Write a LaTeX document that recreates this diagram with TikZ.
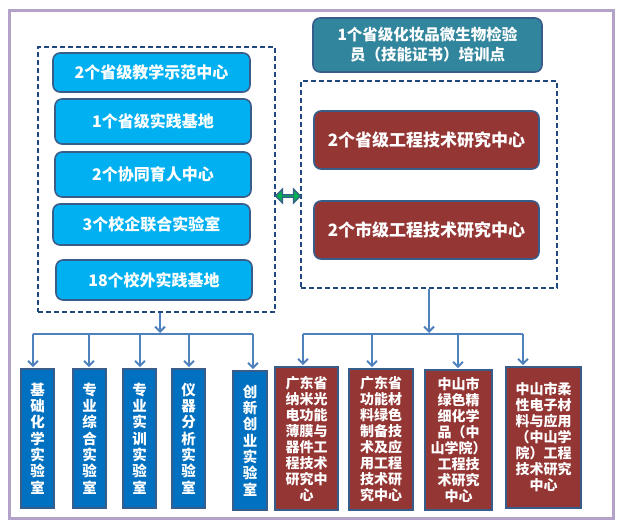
\documentclass[tikz,border=0pt]{standalone}
\usepackage{fontspec}
\newfontfamily\cjk{Noto Sans CJK SC}
\usepackage{tikz}
\usetikzlibrary{positioning,shapes,shapes.arrows,arrows.meta}

\definecolor{skyfill}{HTML}{00B0F0}
\definecolor{edgeblue}{HTML}{385D8A}
\definecolor{tealfill}{HTML}{31859C}
\definecolor{brickfill}{HTML}{943634}
\definecolor{labfill}{HTML}{0070C0}
\definecolor{wireblue}{HTML}{4F81BD}
\definecolor{dashblue}{HTML}{1F497D}
\definecolor{framepurple}{HTML}{B3A2C7}
\definecolor{swapgreen}{HTML}{00B050}

\begin{document}
\begin{tikzpicture}[%
        x=1pt,y=-1pt,
        every node/.style={inner sep=0pt,align=center,text=white},
        platform/.style={%
          rectangle,rounded corners=7pt,
          draw=edgeblue,line width=1.6pt,
          fill=skyfill,
          font=\cjk\bfseries\fontsize{16}{19}\selectfont
        },
        centre/.style={%
          platform,fill=brickfill,
          minimum width=225pt,minimum height=58pt,
          font=\cjk\bfseries\fontsize{17}{20}\selectfont
        },
        group/.style={%
          rectangle,draw=dashblue,line width=1.5pt,
          dash pattern=on 5pt off 3pt
        },
        labbox/.style={%
          rectangle,draw=edgeblue,line width=1.6pt,
          fill=labfill,minimum width=33pt,minimum height=139pt,
          font=\cjk\bfseries\fontsize{14.5}{16.3}\selectfont
        },
        rcbox/.style={%
          labbox,fill=brickfill,
          font=\cjk\bfseries\fontsize{14}{16}\selectfont
        },
        wire/.style={draw=wireblue,line width=2pt},
        link/.style={wire,-{Straight Barb[length=5pt,width=10pt]},shorten >=1pt}
      ]
      \useasboundingbox (0,0) rectangle (620,521);
      \draw[framepurple,line width=3pt] (9.5,10.5) rectangle (613.5,518.5);

      % dashed groups
      \node[group,minimum width=237pt,minimum height=265pt] (left) at (156.5,179.5) {};
      \node[group,minimum width=256pt,minimum height=207pt] (right) at (429,184.5) {};

      % teaching platforms
      \node[platform,minimum width=197pt,minimum height=39pt] (p1) at (151.5,72.5) {2个省级教学示范中心};
      \node[platform,minimum width=196pt,minimum height=45pt] (p2) at (153,121.5) {1个省级实践基地};
      \node[platform,minimum width=196pt,minimum height=45pt] (p3) at (153,174.5) {2个协同育人中心};
      \node[platform,minimum width=197pt,minimum height=41pt] (p4) at (151.5,224.5) {3个校企联合实验室};
      \node[platform,minimum width=196pt,minimum height=40pt] (p5) at (154,280) {18个校外实践基地};

      % research platforms
      \node[platform,fill=tealfill,minimum width=229pt,minimum height=54pt,
            font=\cjk\bfseries\fontsize{15.5}{20}\selectfont] (train) at (427.5,45)
            {1个省级化妆品微生物检验\\员（技能证书）培训点};
      \node[centre] (r1) at (426.5,140) {2个省级工程技术研究中心};
      \node[centre] (r2) at (426.5,230) {2个市级工程技术研究中心};

      \node[double arrow,fill=swapgreen,draw=edgeblue,line width=1.2pt,
            minimum width=14pt,minimum height=25pt,double arrow head extend=3pt] (swap) at (288,196) {};

      % laboratories
      \node[labbox] (b1) at (37.5,438.5) {基\\础\\化\\学\\实\\验\\室};
      \node[labbox] (b2) at (89.5,438.5) {专\\业\\综\\合\\实\\验\\室};
      \node[labbox] (b3) at (139.5,438.5) {专\\业\\实\\训\\实\\验\\室};
      \node[labbox] (b4) at (188.5,438.5) {仪\\器\\分\\析\\实\\验\\室};
      \node[labbox,minimum width=34pt] (b5) at (250,440.5) {创\\新\\创\\业\\实\\验\\室};

      % research centres
      \node[rcbox,minimum width=63pt,minimum height=143pt] (c1) at (306.5,438.5)
            {广东省\\纳米光\\电功能\\薄膜与\\器件工\\程技术\\研究中\\心};
      \node[rcbox,minimum width=64pt,minimum height=141pt] (c2) at (381,439.5)
            {广东省\\功能材\\料绿色\\制备技\\术及应\\用工程\\技术研\\究中心};
      \node[rcbox,minimum width=67pt,minimum height=140pt] (c3) at (458.5,440)
            {中山市\\绿色精\\细化学\\品（中\\山学院）\\工程技\\术研究\\中心};
      \node[rcbox,minimum width=75pt,minimum height=141pt] (c4) at (543.5,437.5)
            {中山市柔\\性电子材\\料与应用\\（中山学\\院）工程\\技术研究\\中心};

      % branch points
      \coordinate (lhub) at (160,334);
      \coordinate (ld1) at (33,334);
      \coordinate (ld2) at (89,334);
      \coordinate (ld3) at (140,334);
      \coordinate (ld4) at (189,334);
      \coordinate (ld5) at (253,334);
      \coordinate (rd1) at (303,334);
      \coordinate (rd2) at (372,334);
      \coordinate (rd3) at (458,334);
      \coordinate (rd4) at (523,334);

      \draw[link] (left.south -| lhub) -- (lhub);
      \draw[wire] (ld1) -- (ld5);
      \draw[link] (ld1) -- (ld1 |- b1.north);
      \draw[link] (ld2) -- (ld2 |- b2.north);
      \draw[link] (ld3) -- (ld3 |- b3.north);
      \draw[link] (ld4) -- (ld4 |- b4.north);
      \draw[link] (ld5) -- (ld5 |- b5.north);

      \draw[link] (right.south) -- (right.south |- rd1);
      \draw[wire] (rd1) -- (rd4);
      \draw[link] (rd1) -- (rd1 |- c1.north);
      \draw[link] (rd2) -- (rd2 |- c2.north);
      \draw[link] (rd3) -- (rd3 |- c3.north);
      \draw[link] (rd4) -- (rd4 |- c4.north);
\end{tikzpicture}
\end{document}
